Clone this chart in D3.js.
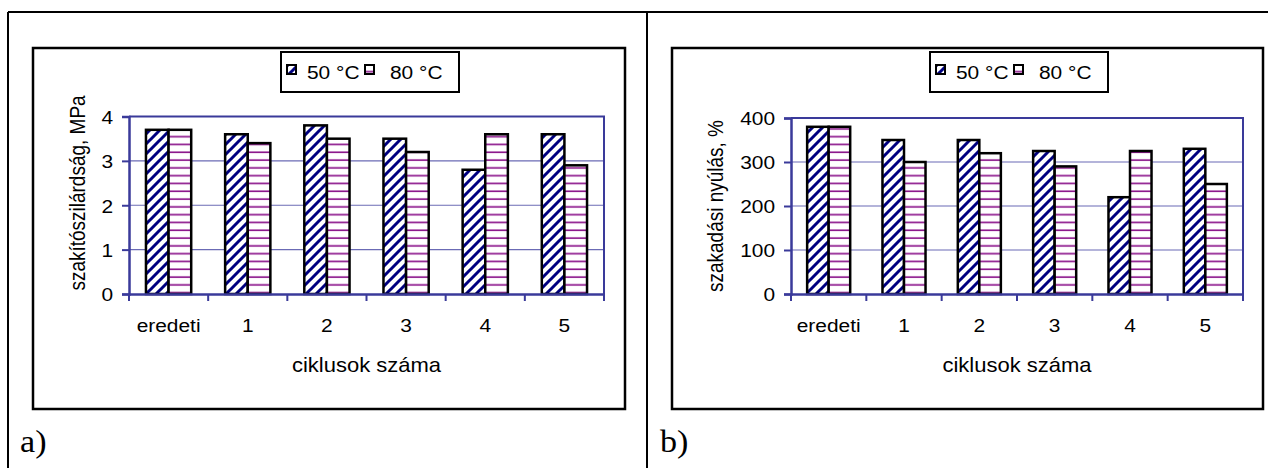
<!DOCTYPE html>
<html>
  <head>
    <meta charset="UTF-8" />
    <script src="https://d3js.org/d3.v7.min.js"></script>
    <style>
      body { margin: 0; background: #fff; }
      text { font-family: "Liberation Sans", Arial, sans-serif; fill: #000; }
    </style>
  </head>
  <body>
    <div id="chart"></div>
    <script>
      // adatok
      const categories = ["eredeti", "1", "2", "3", "4", "5"];
      const series = ["50 °C", "80 °C"];
      const strength50 = [3.7, 3.6, 3.8, 3.5, 2.8, 3.6];
      const strength80 = [3.7, 3.4, 3.5, 3.2, 3.6, 2.9];
      const elong50 = [380, 350, 350, 325, 220, 330];
      const elong80 = [380, 300, 320, 290, 325, 250];
      const strengthTicks = [0, 1, 2, 3, 4];
      const elongTicks = [0, 100, 200, 300, 400];

      const width = 1268, height = 468;
      const sx = 1.1; // a szöveg vízszintesen kissé nyújtva van
      const svg = d3.select("#chart").append("svg")
        .attr("width", width).attr("height", height);

      // mintázatok
      const defs = svg.append("defs");
      const diag = defs.append("pattern").attr("id", "diag")
        .attr("patternUnits", "userSpaceOnUse").attr("width", 10).attr("height", 10);
      diag.append("rect").attr("width", 10).attr("height", 10).attr("fill", "#fff");
      diag.append("path").attr("d", "M-2.5,2.5 L2.5,-2.5 M0,10 L10,0 M7.5,12.5 L12.5,7.5")
        .attr("stroke", "#000080").attr("stroke-width", 3);
      const horiz = defs.append("pattern").attr("id", "horiz")
        .attr("patternUnits", "userSpaceOnUse").attr("width", 8).attr("height", 7.8);
      horiz.append("rect").attr("width", 8).attr("height", 7.8).attr("fill", "#fff");
      horiz.append("rect").attr("y", 3).attr("width", 8).attr("height", 2.2).attr("fill", "#f0d8f0");
      horiz.append("rect").attr("y", 3.4).attr("width", 8).attr("height", 1.4).attr("fill", "#800080");
      const fills = ["url(#diag)", "url(#horiz)"];

      // táblázat keret
      svg.append("g").attr("stroke", "#000").attr("stroke-width", 2).attr("fill", "none")
        .selectAll("line")
        .data([[8, 12, 1268, 12], [8, 12, 8, 468], [647, 12, 647, 468]])
        .join("line")
        .attr("x1", d => d[0]).attr("y1", d => d[1]).attr("x2", d => d[2]).attr("y2", d => d[3]);

      function drawPanel(p) {
        const g = svg.append("g");
        g.append("rect").attr("x", p.frame[0]).attr("y", p.frame[1])
          .attr("width", p.frame[2] - p.frame[0]).attr("height", p.frame[3] - p.frame[1])
          .attr("fill", "#fff").attr("stroke", "#000").attr("stroke-width", 2.5);

        const x = d3.scaleBand().domain(categories).range([p.left, p.right])
          .paddingInner(1.5 / 3.5).paddingOuter(0.75 / 3.5);
        const xs = d3.scaleBand().domain(d3.range(series.length)).range([0, x.bandwidth()]);
        const y = d3.scaleLinear().domain([0, d3.max(p.ticks)]).range([p.bottom, p.top]);

        // rácsvonalak
        g.append("g").selectAll("line").data(p.ticks.slice(1, -1)).join("line")
          .attr("x1", p.left).attr("x2", p.right)
          .attr("y1", d => y(d)).attr("y2", d => y(d))
          .attr("stroke", "#6b6bb5").attr("stroke-width", 1.2);

        // oszlopok
        const rows = categories.map((c, i) => p.values.map(v => ({ c: c, v: v[i] })));
        g.append("g").selectAll("g").data(rows).join("g")
          .selectAll("rect").data(d => d).join("rect")
          .attr("x", (d, j) => x(d.c) + xs(j))
          .attr("width", xs.bandwidth())
          .attr("y", d => y(d.v))
          .attr("height", d => y(0) - y(d.v))
          .attr("fill", (d, j) => fills[j])
          .attr("stroke", "#000").attr("stroke-width", 2.5);

        // tengely keret (felső és jobb)
        g.append("path")
          .attr("d", `M${p.left},${p.top}H${p.right}V${p.bottom}`)
          .attr("fill", "none").attr("stroke", "#3a3a9a").attr("stroke-width", 2);

        // y tengely
        const ya = g.append("g").attr("transform", `translate(${p.left},0)`)
          .call(d3.axisLeft(y).tickValues(p.ticks).tickSize(7).tickPadding(9).tickFormat(d3.format("d")));
        ya.selectAll("text").attr("x", -16 / sx).attr("dy", "0.36em").attr("transform", `scale(${sx},1)`);
        // x tengely
        const xa = g.append("g").attr("transform", `translate(0,${p.bottom})`)
          .call(d3.axisBottom(x).tickSize(0).tickPadding(25));
        xa.selectAll("text").attr("transform", `scale(${sx},1)`);
        g.append("g").selectAll("line").data(d3.range(categories.length + 1)).join("line")
          .attr("x1", i => p.left + i * x.step()).attr("x2", i => p.left + i * x.step())
          .attr("y1", p.bottom).attr("y2", p.bottom + 7)
          .attr("stroke", "#3a3a9a").attr("stroke-width", 2);
        [ya, xa].forEach(a => {
          a.select(".domain").attr("stroke", "#3a3a9a").attr("stroke-width", 2.5);
          a.selectAll(".tick line").attr("stroke", "#3a3a9a").attr("stroke-width", 2);
          a.selectAll("text").style("font-size", "19px").style("font-family", "Liberation Sans, Arial, sans-serif").attr("fill", "#000");
        });

        // tengelycímek
        g.append("text")
          .attr("transform", `translate(${(p.left + p.right) / 2},${p.bottom + 78}) scale(${sx},1)`)
          .attr("text-anchor", "middle").style("font-size", "20px").text("ciklusok száma");
        g.append("text")
          .attr("transform", `translate(${p.titleX},${p.titleY}) rotate(-90) scale(1,1.2)`)
          .attr("text-anchor", "middle").style("font-size", "19px").text(p.title);

        // jelmagyarázat
        const lg = g.append("g").attr("transform", `translate(${p.legend[0]},${p.legend[1]})`);
        lg.append("rect").attr("width", 178).attr("height", 40)
          .attr("fill", "#fff").attr("stroke", "#000").attr("stroke-width", 2);
        const item = lg.selectAll("g").data(series).join("g");
        item.append("rect").attr("x", (d, i) => 6 + i * 78).attr("y", 13).attr("width", 9).attr("height", 9)
          .attr("fill", (d, i) => fills[i]).attr("stroke", "#000").attr("stroke-width", 2);
        item.append("text")
          .attr("transform", (d, i) => `translate(${26 + i * 83},27) scale(${sx},1)`)
          .style("font-size", "19px").text(d => d);

        // panel jel
        svg.append("text")
          .attr("transform", `translate(${p.label[0]},${p.label[1]}) scale(1.1,1)`)
          .style("font-family", "Liberation Serif, Times New Roman, serif")
          .style("font-size", "31px").text(p.labelText);
      }

      drawPanel({
        frame: [33, 48, 625, 409], left: 129, right: 604, top: 116.5, bottom: 294,
        ticks: strengthTicks, values: [strength50, strength80],
        title: "szakítószilárdság, MPa", titleX: 85, titleY: 193,
        legend: [281, 52], label: [20, 452], labelText: "a)"
      });
      drawPanel({
        frame: [672, 48, 1263, 409], left: 791, right: 1243, top: 118, bottom: 294,
        ticks: elongTicks, values: [elong50, elong80],
        title: "szakadási nyúlás, %", titleX: 723, titleY: 206,
        legend: [930, 52], label: [660, 452], labelText: "b)"
      });
    </script>
  </body>
</html>
